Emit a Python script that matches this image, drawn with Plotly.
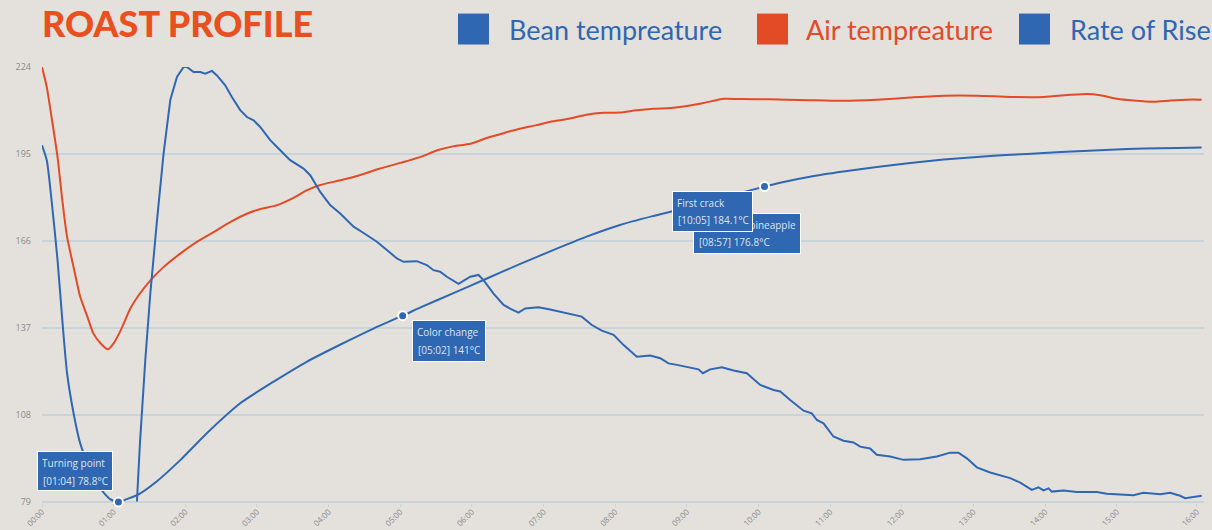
import plotly.graph_objects as go

# ---------------- data ----------------
series_names = ["Bean tempreature", "Air tempreature", "Rate of Rise"]

air_seconds = [0, 4, 8, 13, 17, 21, 27, 32, 38, 43, 49, 55, 60, 66, 74, 82, 91, 102, 116, 130,
               144, 158, 172, 183, 197, 211, 222, 233, 250, 266, 283, 300, 317, 331, 345, 359,
               373, 387, 400, 414, 428, 442, 456, 470, 484, 498, 512, 526, 540, 554, 571, 585,
               610, 624, 643, 671, 699, 727, 755, 783, 811, 839, 861, 875, 886, 900, 914, 931,
               945, 959, 971]
air_values = [224, 217.3, 207.3, 194, 179.6, 167.3, 156.2, 147.3, 140.7, 135.1, 131.8, 129.8,
              131.8, 136.2, 143.4, 148.4, 152.9, 157.3, 161.8, 165.7, 169, 172.3, 175.1, 176.6,
              177.9, 180.4, 182.9, 184.6, 186.2, 187.9, 190.1, 192, 194, 196.2, 197.6, 198.4,
              200.4, 202, 203.4, 204.6, 205.9, 206.8, 208.1, 208.7, 208.8, 209.6, 210.1, 210.3,
              211, 212, 213.4, 213.3, 213.2, 213.1, 212.9, 212.7, 213.1, 213.8, 214.4, 214.4,
              214, 214, 214.7, 215, 214.6, 213.4, 212.8, 212.4, 212.8, 213.1, 213.1]

bean_seconds = [0, 4, 8, 13, 17, 21, 27, 32, 40, 46, 52, 57, 64, 71, 80, 96, 116, 138, 166,
                194, 222, 250, 278, 302, 317, 345, 373, 400, 428, 456, 484, 512, 537, 570, 605,
                624, 643, 671, 699, 727, 755, 783, 811, 839, 867, 895, 923, 951, 971]
bean_values = [197.9, 192.9, 179.6, 159.6, 139.6, 121.8, 107.3, 98.4, 90, 85, 81.8, 79.8, 78.8,
               79.8, 81.2, 85.7, 92.9, 101.8, 111.8, 119, 125.7, 131.4, 136.8, 141, 143.8,
               148.6, 153.5, 158.2, 162.9, 167.4, 171.3, 174.3, 176.8, 180.4, 184.1, 185.9,
               187.4, 189.1, 190.6, 192, 193.1, 194, 194.7, 195.3, 195.9, 196.4, 196.8, 197,
               197.1]

ror_seconds = [79.5, 82, 86.5, 90.7, 96.3, 101.8, 107.4, 113, 118.6, 121.4, 126.9, 132.5, 136.7,
               142.3, 146.5, 153.4, 159, 166, 171.6, 177.2, 182.7, 191.1, 199.5, 207.8, 219,
               224.6, 233, 241.3, 249.7, 260.9, 269.3, 280.4, 288.8, 297.2, 302.7, 313.9, 322.2,
               327.8, 333.4, 339, 348.8, 358.6, 365.5, 369.7, 378.1, 386.5, 392, 399, 404.6,
               415.8, 425.5, 433.9, 445.1, 452, 460.4, 468.8, 478.6, 487, 498.1, 509.3, 517.7,
               524.6, 531.6, 537.2, 542.8, 549.7, 553.4, 559.5, 569.3, 579.1, 590.2, 601.4,
               612.6, 618.2, 626.5, 637.7, 644.6, 648.8, 654.4, 662.7, 671.1, 679.5, 685.1,
               693.4, 699, 710.2, 721.3, 735.3, 749.3, 760.4, 767.4, 774.4, 782.8, 793.9, 810.7,
               819.1, 828.8, 834.4, 838.6, 842.8, 845.6, 855.3, 866.5, 883.2, 891.6, 905.6,
               913.9, 922.3, 936.3, 944.6, 953, 957.2, 961.4, 967, 971.1]
ror_values = [79, 98.4, 126.2, 148.4, 172.9, 195.1, 212.9, 220.7, 224, 224, 222.3, 222.3, 221.8,
              222.7, 221.2, 217.9, 214, 209.6, 207.3, 206.2, 204, 199.6, 196.2, 192.9, 190.1,
              187.9, 182.3, 177.9, 175.1, 170.7, 168.6, 165.7, 162.9, 160.1, 159, 159.2, 157.9,
              156.2, 155.7, 154, 151.6, 154, 154.6, 152.9, 148.4, 144.6, 143.4, 142, 143.4,
              143.8, 143.1, 142.3, 141.2, 140.7, 137.9, 136, 134.6, 131.2, 127.3, 127.7, 126.8,
              125.1, 124.6, 124.2, 123.8, 123.1, 121.8, 123.1, 123.8, 122.7, 121.8, 117.9,
              116.2, 115.7, 112.9, 109.3, 108.4, 106.2, 105.1, 100.7, 99.3, 98.7, 97.3, 96.7,
              94.6, 94, 92.9, 93.1, 94, 95.3, 95.3, 93.4, 90.4, 88.7, 86.8, 85.3, 82.9, 83.7,
              82.7, 83.4, 82.3, 82.7, 82.2, 82.2, 81.6, 81.3, 81.1, 81.9, 81.4, 81.9, 80.9,
              80.1, 80.3, 80.7, 80.9]

event_names = ["Turning point", "Color change", "Smells like pineapple", "First crack"]
event_seconds = [64, 302, 537, 605]
event_values = [78.8, 141, 176.8, 184.1]

y_ticks = [79, 108, 137, 166, 195, 224]
x_tick_seconds = [0, 60, 120, 180, 240, 300, 360, 420, 480, 540, 600, 660, 720, 780, 840, 900, 967]
x_tick_labels = ["00:00", "01:00", "02:00", "03:00", "04:00", "05:00", "06:00", "07:00", "08:00",
                 "09:00", "10:00", "11:00", "12:00", "13:00", "14:00", "15:00", "16:00"]

# ---------------- style ----------------
W, H = 1212, 530
ML, MR, MT, MB = 42, 8, 67, 26.5
Y_RANGE = [78.5, 224]
X_RANGE = [0, 973]
BLUE = "#2F67B2"
ORANGE = "#E34A26"
TITLE_ORANGE = "#E8501F"
BG = "#E4E1DD"
GRID = "#C7D5DA"
TICK_GREY = "#8A8A8A"
BOX_TEXT = "#DCE4F0"


def px_x(px):
    return (px - ML) / (W - ML - MR)


def px_y(py):
    return (H - MB - py) / (H - MT - MB)


def y_frac(v):
    # position of a y value on the y axis, as a fraction of the plot height
    return (v - Y_RANGE[0]) / (Y_RANGE[1] - Y_RANGE[0])


fig = go.Figure()
fig.add_trace(go.Scatter(x=air_seconds, y=air_values, name=series_names[1], mode="lines",
                         line=dict(color=ORANGE, width=2, shape="spline", smoothing=0.6),
                         cliponaxis=False, showlegend=False))
fig.add_trace(go.Scatter(x=bean_seconds, y=bean_values, name=series_names[0], mode="lines",
                         line=dict(color=BLUE, width=2, shape="spline", smoothing=0.6),
                         cliponaxis=False, showlegend=False))
fig.add_trace(go.Scatter(x=ror_seconds, y=ror_values, name=series_names[2], mode="lines",
                         line=dict(color=BLUE, width=2),
                         cliponaxis=False, showlegend=False))
fig.add_trace(go.Scatter(x=event_seconds, y=event_values, mode="markers", name="Events",
                         marker=dict(color=BLUE, size=9, line=dict(color="white", width=2)),
                         cliponaxis=False, showlegend=False))

# event annotation boxes
# (xanchor, yanchor, box xshift, box yshift, box w, box h, line2 xshift, line2 yshift)
box_layout = [
    ("right", "bottom", -5.4, 11, 76, 40, -76.4, 21.5),
    ("left", "top", 9.6, -4.2, 74, 41.5, 14.6, -34.2),
    ("left", "top", 10, -4.5, 108, 41, 15, -34),
    ("right", "top", -11.4, -4.6, 81, 41, -87.4, -33.6),
]
annotations = []
for name, sec, val, lay in zip(event_names, event_seconds, event_values, box_layout):
    xa, ya, bx, by, bw, bh, lx, ly = lay
    label = f"[{int(sec) // 60:02d}:{int(sec) % 60:02d}] {val:g}°C"
    annotations.append(dict(
        x=sec, y=y_frac(val), xref="x", yref="paper", text=name, showarrow=False,
        xanchor=xa, yanchor=ya, xshift=bx, yshift=by,
        width=bw - 10, height=bh - 10, align="left", valign="top",
        bgcolor=BLUE, bordercolor="white", borderwidth=1, borderpad=4,
        font=dict(family="Open Sans", size=10, color=BOX_TEXT)))
    annotations.append(dict(
        x=sec, y=y_frac(val), xref="x", yref="paper", text=label, showarrow=False,
        xanchor="left", yanchor="middle", xshift=lx, yshift=ly,
        align="left", borderpad=0,
        font=dict(family="Open Sans", size=10, color=BOX_TEXT)))

# custom legend (large square swatches)
legend_colors = [BLUE, ORANGE, BLUE]
legend_square_left = [458, 757, 1019]
legend_text_left = [507, 804, 1068]
shapes = []
for name, col, sq, tx in zip(series_names, legend_colors, legend_square_left, legend_text_left):
    shapes.append(dict(type="rect", xref="paper", yref="paper",
                       x0=px_x(sq), x1=px_x(sq + 31), y0=px_y(44.5), y1=px_y(13.5),
                       fillcolor=col, line=dict(width=0)))
    annotations.append(dict(xref="paper", yref="paper", x=px_x(tx), y=px_y(29),
                            xanchor="left", yanchor="middle", showarrow=False, text=name,
                            font=dict(family="Lato", size=27, color=col)))

fig.update_layout(
    width=W, height=H,
    margin=dict(l=ML, r=MR, t=MT, b=MB, autoexpand=False),
    paper_bgcolor=BG, plot_bgcolor=BG,
    title=dict(text="ROAST PROFILE", x=42 / W, xref="container", xanchor="left",
               y=1 - 24.5 / H, yref="container", yanchor="middle",
               font=dict(family="Lato", size=36, weight=900, color=TITLE_ORANGE)),
    showlegend=False,
    annotations=annotations,
    shapes=shapes,
    xaxis=dict(range=X_RANGE, tickvals=x_tick_seconds, ticktext=x_tick_labels,
               tickangle=-45, tickfont=dict(family="Open Sans", size=8, color=TICK_GREY),
               showgrid=False, zeroline=False, showline=False,
               ticks="outside", ticklen=3, tickcolor=GRID, tickwidth=1, automargin=False,
               ticklabelstandoff=-3, fixedrange=True),
    yaxis=dict(range=Y_RANGE, tickvals=y_ticks,
               tickfont=dict(family="Open Sans", size=9, color=TICK_GREY),
               showgrid=True, gridcolor=GRID, gridwidth=1.5, zeroline=False, showline=False,
               ticks="", ticklabelstandoff=10, automargin=False, fixedrange=True),
)

fig.write_html(
    "out.html",
    config={"displayModeBar": False},
    post_script="document.body.style.margin='0';document.body.style.background='" + BG + "';",
)
